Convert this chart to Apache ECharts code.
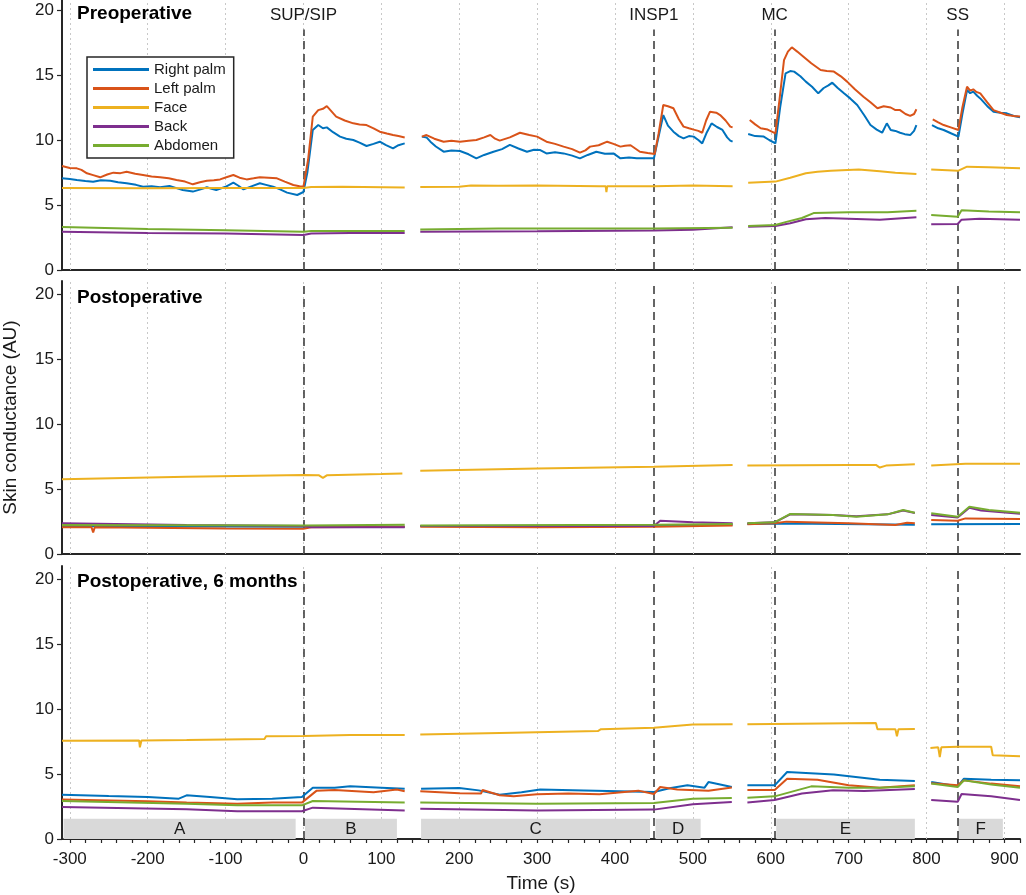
<!DOCTYPE html>
<html><head><meta charset="utf-8">
<script src="https://cdn.jsdelivr.net/npm/echarts@6/dist/echarts.min.js"></script>
<style>html,body{margin:0;padding:0;background:#fff}#c{width:1026px;height:895px}</style>
</head><body><div id="c"></div><script>
// ---------- DATA ----------
const seriesNames = ['Right palm','Left palm','Face','Back','Abdomen'];
const panelTitles = ['Preoperative','Postoperative','Postoperative, 6 months'];
const eventTimes = [0, 450, 605, 840];
const eventNames = ['SUP/SIP','INSP1','MC','SS'];
const xTickLabels = [-300,-200,-100,0,100,200,300,400,500,600,700,800,900];
const yTickLabels = [0,5,10,15,20];
const barLabels = ['A','B','C','D','E','F'];
const barStart = [-308, 2, 151, 452, 607, 841];
const barEnd = [-10, 120, 445, 510, 785, 898];
const barTop = 1.55;

// Preoperative
const pre_right = [[-310,7.05],[-300,7.0],[-291,6.92],[-280,6.85],[-270,6.79],[-260,6.9],[-248,6.87],[-238,6.75],[-227,6.67],[-215,6.55],[-206,6.41],[-195,6.45],[-184,6.36],[-172,6.46],[-163,6.3],[-155,6.15],[-142,6.03],[-132,6.2],[-124,6.36],[-118,6.25],[-112,6.15],[-100,6.4],[-90,6.72],[-84,6.5],[-77,6.2],[-66,6.45],[-56,6.67],[-48,6.55],[-39,6.41],[-30,6.2],[-21,5.95],[-8,5.77],[0,6.0],[5,7.5],[12,10.77],[19,11.15],[25,10.9],[30,10.97],[38,10.6],[47,10.26],[55,10.1],[64,10.0],[72,9.8],[81,9.54],[90,9.7],[98,9.87],[106,9.6],[115,9.36],[122,9.6],[130,9.74],[140,null],
 [152,10.26],[158,10.2],[163,9.87],[170,9.5],[180,9.1],[190,9.2],[201,9.15],[212,8.9],[222,8.59],[232,8.85],[244,9.1],[255,9.3],[265,9.62],[276,9.35],[287,9.1],[296,9.25],[304,9.23],[312,8.97],[323,9.05],[334,8.97],[345,8.8],[355,8.59],[365,8.85],[376,9.1],[387,8.95],[398,8.97],[407,8.59],[418,8.65],[428,8.59],[440,8.6],[450,8.59],[455,10.0],[462,11.92],[468,11.1],[475,10.64],[482,10.3],[488,10.13],[495,10.3],[501,10.26],[507,10.0],[512,9.74],[518,10.6],[524,11.28],[531,11.0],[538,10.77],[544,10.2],[548,9.95],[551,9.87],[560,null],
 [571,10.46],[580,10.3],[591,10.26],[598,10.0],[606,9.74],[612,12.5],[619,15.13],[625,15.3],[630,15.26],[638,14.9],[645,14.49],[653,14.1],[661,13.59],[668,14.0],[674,14.2],[679,14.41],[686,14.0],[694,13.59],[702,13.2],[711,12.69],[720,11.9],[728,11.15],[736,10.8],[743,10.56],[749,11.28],[754,10.77],[760,10.7],[766,10.56],[772,10.45],[779,10.38],[784,10.7],[787,11.15],[797,null],
 [807,11.15],[815,10.9],[822,10.77],[832,10.5],[841,10.26],[846,12.0],[852,13.85],[856,13.6],[860,13.72],[865,13.4],[869,13.2],[878,12.6],[886,12.18],[895,12.1],[903,12.05],[912,11.85],[920,11.75]];
const pre_left = [[-310,8.0],[-300,7.85],[-291,7.82],[-285,7.7],[-278,7.44],[-270,7.3],[-261,7.13],[-252,7.35],[-244,7.49],[-235,7.45],[-227,7.56],[-216,7.4],[-206,7.31],[-195,7.2],[-184,7.13],[-173,7.05],[-163,6.92],[-152,6.8],[-142,6.59],[-133,6.75],[-124,6.87],[-115,6.9],[-107,6.97],[-98,7.15],[-90,7.31],[-82,7.1],[-73,6.97],[-64,7.05],[-56,7.13],[-45,7.1],[-34,7.05],[-24,6.8],[-13,6.54],[-5,6.45],[0,6.41],[6,8.5],[12,11.8],[19,12.3],[25,12.4],[30,12.6],[36,12.2],[42,11.8],[53,11.5],[64,11.28],[72,11.2],[81,11.15],[90,10.9],[98,10.64],[107,10.5],[115,10.38],[122,10.3],[130,10.2],[140,null],
 [152,10.26],[158,10.38],[168,10.1],[180,9.87],[190,9.95],[201,9.87],[212,9.95],[222,10.0],[232,10.2],[240,10.38],[246,10.1],[252,9.95],[265,10.2],[278,10.56],[290,10.38],[300,10.26],[312,9.87],[323,9.7],[334,9.49],[345,9.3],[355,9.03],[362,9.2],[368,9.49],[379,9.6],[390,9.87],[398,9.7],[407,9.49],[413,9.55],[420,9.6],[426,9.35],[432,9.1],[442,9.0],[451,8.92],[456,10.5],[462,12.69],[468,12.6],[475,12.44],[482,11.6],[488,11.03],[495,10.9],[501,10.8],[507,10.7],[512,10.56],[517,11.5],[522,12.18],[530,12.1],[535,11.92],[542,11.5],[548,11.03],[551,10.97],[560,null],
 [573,11.54],[580,11.2],[587,10.9],[596,10.8],[606,10.51],[611,13.0],[617,16.15],[622,16.8],[627,17.13],[634,16.8],[642,16.4],[652,15.9],[664,15.38],[672,15.3],[681,15.26],[690,14.9],[698,14.49],[708,13.9],[719,13.33],[728,12.9],[737,12.44],[745,12.6],[754,12.5],[760,12.3],[766,12.3],[773,12.0],[779,11.85],[784,12.0],[787,12.36],[797,null],
 [808,11.59],[815,11.35],[822,11.15],[832,10.95],[841,10.77],[846,12.5],[852,14.1],[856,13.8],[860,13.9],[864,13.7],[869,13.59],[878,12.9],[886,12.3],[895,12.1],[903,11.92],[912,11.85],[920,11.8]];
const pre_face = [[-310,6.3],[-200,6.28],[-100,6.3],[0,6.3],[10,6.38],[50,6.4],[130,6.35],[140,null],
 [150,6.38],[200,6.4],[215,6.5],[250,6.48],[300,6.5],[380,6.45],[388,6.45],[389,6.0],[390,6.45],[450,6.45],[500,6.5],[551,6.45],[560,null],
 [571,6.72],[606,6.8],[625,7.1],[645,7.44],[660,7.55],[677,7.64],[713,7.74],[740,7.6],[760,7.49],[787,7.38],[797,null],
 [806,7.74],[841,7.64],[852,7.95],[880,7.9],[920,7.82]];
const pre_back = [[-310,2.95],[-200,2.85],[-100,2.8],[0,2.7],[10,2.8],[60,2.85],[130,2.85],[140,null],
 [150,2.95],[300,2.98],[450,3.03],[500,3.1],[551,3.28],[560,null],
 [571,3.33],[606,3.38],[625,3.6],[645,3.9],[670,4.0],[700,3.95],[740,3.87],[787,4.05],[797,null],
 [806,3.51],[840,3.54],[845,3.87],[868,3.95],[920,3.87]];
const pre_abd = [[-310,3.3],[-200,3.15],[-100,3.05],[0,2.95],[10,3.0],[130,3.0],[140,null],
 [150,3.12],[250,3.2],[350,3.2],[450,3.2],[551,3.25],[560,null],
 [571,3.38],[606,3.46],[620,3.7],[640,4.0],[655,4.38],[700,4.45],[750,4.45],[787,4.55],[797,null],
 [806,4.23],[840,4.1],[845,4.6],[880,4.5],[920,4.44]];

// Postoperative
const post_right = [[-310,2.15],[0,2.1],[130,2.1],[140,null],[150,2.15],[450,2.2],[551,2.25],[560,null],[570,2.3],[620,2.35],[785,2.25],[797,null],[806,2.28],[920,2.3]];
const post_left = [[-310,2.05],[-272,2.05],[-270,1.65],[-268,2.05],[-100,1.97],[0,1.95],[10,2.05],[130,2.1],[140,null],[150,2.1],[300,2.05],[450,2.1],[551,2.2],[560,null],[570,2.28],[605,2.36],[620,2.49],[700,2.36],[760,2.23],[775,2.41],[785,2.36],[797,null],[806,2.62],[840,2.56],[850,2.74],[920,2.7]];
const post_face = [[-310,5.75],[-150,5.95],[0,6.08],[20,6.05],[25,5.85],[30,6.05],[100,6.15],[127,6.2],[140,null],[150,6.41],[300,6.58],[450,6.72],[551,6.85],[560,null],[570,6.8],[700,6.85],[735,6.85],[740,6.65],[748,6.8],[785,6.9],[797,null],[806,6.8],[850,6.95],[920,6.95]];
const post_back = [[-310,2.36],[-150,2.23],[0,2.15],[10,2.05],[130,2.05],[140,null],[150,2.15],[450,2.15],[458,2.56],[500,2.44],[551,2.36],[560,null],[570,2.36],[605,2.44],[625,3.05],[680,3.0],[710,2.9],[750,3.05],[770,3.35],[785,3.15],[797,null],[806,3.0],[840,2.8],[855,3.55],[870,3.35],[920,3.1]];
const post_abd = [[-310,2.23],[0,2.2],[130,2.25],[140,null],[150,2.2],[450,2.25],[551,2.3],[560,null],[570,2.36],[605,2.44],[625,3.08],[680,3.0],[710,2.87],[750,3.05],[770,3.38],[785,3.18],[797,null],[806,3.13],[840,2.87],[855,3.64],[880,3.38],[920,3.18]];

// Postoperative, 6 months
const six_right = [[-310,3.41],[-250,3.3],[-200,3.23],[-160,3.1],[-150,3.36],[-120,3.23],[-85,3.05],[-40,3.1],[-2,3.23],[12,3.95],[40,3.95],[60,4.05],[100,3.95],[130,3.87],[140,null],[151,3.87],[200,3.92],[225,3.74],[252,3.41],[280,3.6],[304,3.8],[360,3.74],[450,3.61],[470,3.9],[493,4.13],[515,3.95],[520,4.38],[550,4.0],[560,null],[570,4.13],[605,4.13],[621,5.15],[681,4.97],[740,4.56],[785,4.46],[797,null],[806,4.38],[840,4.05],[848,4.64],[883,4.56],[920,4.51]];
const six_left = [[-310,3.03],[-200,2.9],[-150,2.8],[-85,2.72],[-40,2.8],[-2,2.8],[17,3.72],[40,3.77],[90,3.59],[120,3.8],[130,3.67],[140,null],[150,3.67],[200,3.51],[228,3.5],[230,3.77],[252,3.36],[270,3.28],[300,3.45],[340,3.5],[380,3.45],[430,3.72],[450,3.46],[458,4.0],[480,3.8],[520,3.72],[550,3.97],[560,null],[570,3.77],[605,3.77],[621,4.64],[660,4.56],[700,4.13],[740,3.95],[785,4.13],[797,null],[806,4.28],[840,4.13],[848,4.51],[883,4.26],[920,4.05]];
const six_face = [[-310,7.55],[-211,7.58],[-210,7.05],[-208,7.58],[-150,7.62],[-50,7.7],[-48,7.9],[0,7.92],[60,8.0],[130,8.0],[140,null],[150,8.03],[252,8.15],[378,8.3],[382,8.45],[450,8.55],[500,8.8],[551,8.82],[560,null],[570,8.82],[700,8.9],[735,8.92],[737,8.45],[760,8.45],[762,7.9],[764,8.45],[785,8.46],[797,null],[805,7.0],[815,7.05],[817,6.3],[819,7.05],[840,7.1],[883,7.1],[885,6.44],[920,6.36]];
const six_back = [[-310,2.46],[-150,2.28],[-85,2.13],[-2,2.13],[12,2.41],[130,2.2],[140,null],[150,2.33],[300,2.2],[450,2.26],[500,2.67],[550,2.85],[560,null],[570,2.8],[605,3.0],[640,3.5],[680,3.75],[720,3.7],[785,3.85],[797,null],[806,3.0],[840,2.87],[845,3.46],[883,3.28],[920,3.0]];
const six_abd = [[-310,2.92],[-150,2.72],[-85,2.59],[-2,2.59],[12,2.92],[130,2.8],[140,null],[150,2.8],[300,2.72],[450,2.77],[500,3.1],[550,3.15],[560,null],[570,3.18],[605,3.28],[652,4.05],[700,3.95],[740,3.95],[785,4.05],[797,null],[806,4.26],[840,4.0],[848,4.51],[883,4.2],[920,3.95]];

// ---------- CHART ----------
const colors = ['#0072BD','#D95319','#EDB120','#7E2F8E','#77AC30'];
const panels = [
  [pre_right, pre_left, pre_face, pre_back, pre_abd],
  [post_right, post_left, post_face, post_back, post_abd],
  [six_right, six_left, six_face, six_back, six_abd]
];
const FONT = '"Liberation Sans", Arial, Helvetica, sans-serif';
const AX = '#262626';
const gridTops = [-3, 281, 566];
const H = 273;
const minorTicks = [];
for (let v = -300; v <= 920; v += 20) minorTicks.push(v);

const grids = gridTops.map(t => ({left: 62, right: 6, top: t, height: H, containLabel: false, outerBoundsMode: 'none'}));
const xAxes = gridTops.map((t, p) => ({
  type: 'value', gridIndex: p, min: -310, max: 920,
  axisLine: {show: true, onZero: false, lineStyle: {color: AX, width: 2}},
  axisTick: {show: p === 2, inside: false, length: 4, lineStyle: {color: AX, width: 1.2}, customValues: minorTicks},
  axisLabel: {show: p === 2, customValues: xTickLabels, margin: 12, fontSize: 17, color: '#1a1a1a', fontFamily: FONT},
  splitLine: {show: false},
  name: p === 2 ? 'Time (s)' : '', nameLocation: 'middle', nameGap: 35,
  nameTextStyle: {fontSize: 19, color: '#1a1a1a', fontFamily: FONT}
}));
const yAxes = gridTops.map((t, p) => ({
  type: 'value', gridIndex: p, min: 0, max: 21,
  axisLine: {show: true, onZero: false, lineStyle: {color: AX, width: 2}},
  axisTick: {show: true, inside: false, length: 5, lineStyle: {color: AX, width: 1.2}, customValues: yTickLabels},
  axisLabel: {customValues: yTickLabels, margin: 8, fontSize: 17, color: '#1a1a1a', fontFamily: FONT},
  splitLine: {show: false},
  name: p === 1 ? 'Skin conductance (AU)' : '', nameLocation: 'middle', nameGap: 42, nameRotate: 90,
  nameTextStyle: {fontSize: 19, color: '#1a1a1a', fontFamily: FONT}
}));

const series = [];
panels.forEach((arrs, p) => {
  // dotted grid lines
  series.push({
    type: 'line', xAxisIndex: p, yAxisIndex: p, data: [], z: 1, silent: true,
    markLine: {z: 1, symbol: ['none','none'], silent: true, animation: false, label: {show: false},
      lineStyle: {type: [2, 3], color: '#c8c8c8', width: 1},
      data: xTickLabels.map(v => ({xAxis: v}))}
  });
  // event dashed lines
  const evData = p === 0
    ? eventTimes.map((t, k) => [{name: eventNames[k], coord: [t, 0]}, {coord: [t, 18.5]}])
    : eventTimes.map(t => ({xAxis: t}));
  series.push({
    type: 'line', xAxisIndex: p, yAxisIndex: p, data: [], z: 3, silent: true,
    markLine: {z: 3, symbol: ['none','none'], silent: true, animation: false,
      label: {show: p === 0, position: 'end', formatter: '{b}', distance: 6, fontSize: 17, color: '#1a1a1a', fontFamily: FONT},
      lineStyle: {type: [8, 5], color: '#333', width: 1.5},
      data: evData}
  });
  arrs.forEach((d, i) => {
    series.push({
      type: 'line', name: seriesNames[i], xAxisIndex: p, yAxisIndex: p, data: d,
      showSymbol: false, symbol: 'none', connectNulls: false, z: 4 + i,
      lineStyle: {color: colors[i], width: 2}, itemStyle: {color: colors[i]}
    });
  });
});
// gray bars in last panel
series.push({
  type: 'line', xAxisIndex: 2, yAxisIndex: 2, data: [], z: 2, silent: true,
  markArea: {z: 2, silent: true, animation: false, itemStyle: {color: '#d9d9d9'},
    label: {show: true, position: 'inside', color: '#1a1a1a', fontSize: 17, fontFamily: FONT},
    data: barLabels.map((l, k) => [{name: l, xAxis: barStart[k], yAxis: 0}, {xAxis: barEnd[k], yAxis: barTop}])}
});

const chart = echarts.init(document.getElementById('c'), null, {renderer: 'canvas'});
chart.setOption({
  animation: false,
  backgroundColor: '#fff',
  textStyle: {fontFamily: FONT},
  title: [
    {text: panelTitles[0], left: 77, top: 4, padding: 0, textStyle: {fontSize: 19, fontWeight: 'bold', color: '#000', fontFamily: FONT}},
    {text: panelTitles[1], left: 77, top: 288, padding: 0, textStyle: {fontSize: 19, fontWeight: 'bold', color: '#000', fontFamily: FONT}},
    {text: panelTitles[2], left: 77, top: 572, padding: 0, textStyle: {fontSize: 19, fontWeight: 'bold', color: '#000', fontFamily: FONT}}
  ],
  legend: {
    data: seriesNames.map(n => ({name: n, icon: 'rect'})),
    orient: 'vertical', left: 87, top: 57, padding: [4, 8, 4, 6],
    borderColor: AX, borderWidth: 1.5, borderRadius: 0, backgroundColor: '#fff',
    itemWidth: 56, itemHeight: 3, itemGap: 2, z: 20,
    textStyle: {fontSize: 15, lineHeight: 17, color: '#1a1a1a', fontFamily: FONT}
  },
  grid: grids, xAxis: xAxes, yAxis: yAxes, series: series
});
</script></body></html>
